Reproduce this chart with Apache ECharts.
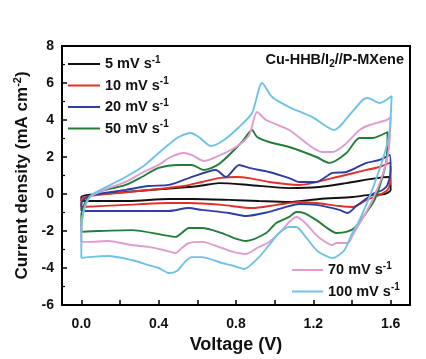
<!DOCTYPE html>
<html>
<head>
<meta charset="utf-8">
<script src="https://cdn.jsdelivr.net/npm/echarts@6/dist/echarts.min.js"></script>
<style>html,body{margin:0;padding:0;background:#fff;}#c{width:426px;height:359px;}</style>
</head>
<body>
<div id="c"></div>
<script>
var scanRates = ['5', '10', '20', '50', '70', '100'];
var colors = ['#111111', '#e0302a', '#2d3fa3', '#237d3a', '#df9ccf', '#6fc2e6'];
var xTicks = [0, 0.2, 0.4, 0.6, 0.8, 1.0, 1.2, 1.4, 1.6];
var xLabels = [0, 0.4, 0.8, 1.2, 1.6];

var cv5 = [[0,-0.38],[0,-0.16],[0.036,-0.05],[0.161,0.05],[0.421,0.27],[0.608,0.43],[0.712,0.59],[0.868,0.49],[1.075,0.32],[1.231,0.38],[1.371,0.59],[1.527,0.86],[1.595,0.92],
  [1.60,0.22],[1.569,0.0],[1.49,-0.05],[1.403,-0.16],[1.231,-0.27],[1.075,-0.43],[0.919,-0.38],[0.764,-0.32],[0.577,-0.27],[0.452,-0.27],[0.244,-0.38],[0,-0.38]];
var cv10 = [[0,-0.70],[0,-0.32],[0.026,-0.16],[0.088,-0.05],[0.244,0.11],[0.40,0.27],[0.53,0.43],[0.623,0.65],[0.712,0.86],[0.80,0.92],[0.868,0.86],[0.971,0.65],[1.127,0.49],[1.299,0.86],[1.475,1.30],[1.543,1.46],[1.595,1.68],
  [1.60,0.76],[1.584,0.22],[1.543,-0.05],[1.475,-0.32],[1.403,-0.70],[1.335,-0.65],[1.216,-0.49],[1.127,-0.43],[1.008,-0.59],[0.883,-0.76],[0.727,-0.59],[0.556,-0.49],[0.452,-0.49],[0.229,-0.59],[0,-0.70]];
var cv20 = [[0,-0.92],[0,-0.54],[0.016,-0.27],[0.062,-0.05],[0.229,0.22],[0.348,0.43],[0.452,0.49],[0.556,0.86],[0.696,1.30],[0.748,0.92],[0.816,1.57],[0.868,1.41],[0.971,1.19],[1.075,0.86],[1.127,0.65],[1.216,0.65],[1.299,1.14],[1.371,1.19],[1.475,1.68],[1.543,1.84],[1.595,2.11],
  [1.60,1.30],[1.584,0.49],[1.558,0.22],[1.517,0.05],[1.465,-0.32],[1.423,-0.65],[1.377,-1.03],[1.335,-0.86],[1.216,-0.59],[1.127,-0.54],[1.039,-0.76],[0.971,-0.97],[0.852,-1.19],[0.764,-1.03],[0.623,-0.86],[0.556,-0.76],[0.452,-0.92],[0.229,-0.92],[0,-0.92]];
var cv50 = [[0,-2.05],[0,-1.14],[0.016,-0.54],[0.036,-0.22],[0.088,0.11],[0.229,0.49],[0.312,0.92],[0.40,1.41],[0.504,1.57],[0.571,1.57],[0.634,1.30],[0.712,1.62],[0.831,2.81],[0.883,3.46],[0.909,3.08],[0.971,2.81],[1.075,2.54],[1.216,2.0],[1.283,1.68],[1.371,2.22],[1.439,3.03],[1.506,3.03],[1.584,3.35],
  [1.579,1.84],[1.553,0.76],[1.517,-0.32],[1.465,-1.14],[1.413,-1.84],[1.371,-2.05],[1.32,-2.11],[1.257,-1.73],[1.216,-1.41],[1.153,-1.03],[1.112,-0.97],[1.075,-1.24],[1.008,-1.57],[0.956,-2.11],[0.852,-2.54],[0.79,-2.38],[0.727,-2.11],[0.623,-1.84],[0.556,-1.84],[0.519,-2.11],[0.488,-2.32],[0.426,-2.22],[0.26,-1.95],[0.088,-2.0],[0,-2.05]];
var cv70 = [[0,-2.59],[0,-1.68],[0.016,-0.76],[0.036,-0.27],[0.062,-0.05],[0.14,0.32],[0.229,0.65],[0.322,1.19],[0.40,1.57],[0.462,2.0],[0.53,2.22],[0.571,2.11],[0.634,1.78],[0.686,1.95],[0.80,2.54],[0.868,3.19],[0.909,4.43],[0.956,4.0],[1.075,3.46],[1.247,2.27],[1.299,2.27],[1.361,2.65],[1.439,3.46],[1.491,3.73],[1.579,4.0],[1.60,4.16],
  [1.59,2.38],[1.558,1.03],[1.506,-0.32],[1.465,-1.14],[1.413,-2.05],[1.377,-2.65],[1.32,-2.65],[1.299,-2.76],[1.247,-2.49],[1.216,-2.22],[1.153,-1.51],[1.112,-1.24],[1.075,-1.51],[1.039,-1.95],[0.971,-2.59],[0.909,-2.92],[0.852,-3.24],[0.79,-3.14],[0.727,-2.92],[0.623,-2.59],[0.556,-2.65],[0.519,-2.92],[0.488,-3.19],[0.426,-3.03],[0.348,-2.86],[0.26,-2.76],[0.14,-2.54],[0.036,-2.59],[0,-2.59]];
var cv100 = [[0,-3.46],[0,-1.95],[0.01,-1.03],[0.026,-0.49],[0.052,-0.05],[0.088,0.16],[0.229,0.92],[0.322,1.51],[0.40,2.22],[0.462,2.76],[0.504,3.08],[0.566,3.30],[0.608,3.08],[0.67,2.59],[0.738,2.92],[0.816,3.62],[0.883,4.38],[0.935,6.0],[0.987,5.24],[1.075,4.70],[1.195,4.16],[1.309,3.46],[1.387,4.27],[1.455,5.08],[1.481,5.19],[1.543,4.92],[1.605,5.30],
  [1.595,3.46],[1.574,2.38],[1.532,1.03],[1.49,-0.16],[1.439,-1.41],[1.397,-2.22],[1.361,-3.03],[1.325,-3.35],[1.299,-3.46],[1.257,-3.30],[1.216,-3.03],[1.153,-2.22],[1.112,-1.78],[1.075,-1.78],[1.023,-2.11],[0.971,-2.76],[0.919,-3.41],[0.842,-4.05],[0.79,-3.89],[0.727,-3.73],[0.623,-3.41],[0.571,-3.41],[0.535,-3.68],[0.494,-4.16],[0.452,-4.27],[0.40,-4.0],[0.348,-3.84],[0.26,-3.57],[0.14,-3.35],[0.036,-3.41],[0,-3.46]];

var curves = [cv5, cv10, cv20, cv50, cv70, cv100];
var FONT = '"Liberation Sans", Arial, sans-serif';

function seriesName(r) { return r + ' mV s-1'; }

var series = curves.map(function (d, i) {
  return {
    name: seriesName(scanRates[i]),
    type: 'line',
    data: d,
    showSymbol: false,
    symbol: 'none',
    smooth: 0.25,
    lineStyle: { width: 1.9, color: colors[i] },
    itemStyle: { color: colors[i] },
    z: 2 + i
  };
});

var legendText = {
  fontFamily: FONT, fontWeight: 'bold', fontSize: 14, color: '#111',
  rich: {
    m: { fontFamily: FONT, fontWeight: 'bold', fontSize: 14.5, color: '#111', lineHeight: 18 },
    s: { fontFamily: FONT, fontWeight: 'bold', fontSize: 10, color: '#111', verticalAlign: 'top', lineHeight: 10 }
  }
};
function legendFmt(name) { return '{m|' + name.replace(' s-1', ' s') + '}{s|-1}'; }

var chart = echarts.init(document.getElementById('c'), null, { renderer: 'canvas' });
chart.setOption({
  animation: false,
  backgroundColor: '#fff',
  title: {
    text: '{a|Cu-HHB/I}{b|2}{a|//P-MXene}',
    right: 22, top: 51, padding: 0,
    textStyle: {
      rich: {
        a: { fontFamily: FONT, fontWeight: 'bold', fontSize: 14.5, color: '#111', lineHeight: 18 },
        b: { fontFamily: FONT, fontWeight: 'bold', fontSize: 10, color: '#111', verticalAlign: 'bottom', lineHeight: 10 }
      }
    }
  },
  legend: [
    {
      data: scanRates.slice(0, 4).map(seriesName),
      orient: 'vertical', left: 68, top: 55, padding: 0,
      icon: 'rect', itemWidth: 32, itemHeight: 2, itemGap: 5,
      formatter: legendFmt, textStyle: legendText
    },
    {
      data: scanRates.slice(4).map(seriesName),
      orient: 'vertical', left: 292, top: 261, padding: 0,
      icon: 'rect', itemWidth: 31, itemHeight: 2, itemGap: 5,
      formatter: legendFmt, textStyle: legendText
    }
  ],
  grid: { left: 62, right: 16, top: 46, bottom: 54, show: true, borderColor: '#000', borderWidth: 2, backgroundColor: 'transparent' },
  xAxis: {
    type: 'value', min: -0.1, max: 1.7,
    name: 'Voltage (V)', nameLocation: 'middle', nameGap: 31,
    nameTextStyle: { fontFamily: FONT, fontWeight: 'bold', fontSize: 18, color: '#111' },
    axisLine: { show: true, onZero: false, lineStyle: { color: '#000', width: 2 } },
    axisTick: { show: true, inside: true, length: 5, lineStyle: { color: '#000', width: 1.5 }, customValues: xTicks },
    axisLabel: { customValues: xLabels, margin: 12, fontFamily: FONT, fontWeight: 'bold', fontSize: 14, color: '#111', formatter: function (v) { return v.toFixed(1); } },
    splitLine: { show: false }
  },
  yAxis: {
    type: 'value', min: -6, max: 8, interval: 2,
    name: '{a|Current density (mA cm}{s|-2}{a|)}', nameLocation: 'middle', nameGap: 30, nameRotate: 90,
    nameTextStyle: {
      rich: {
        a: { fontFamily: FONT, fontWeight: 'bold', fontSize: 17, color: '#111', lineHeight: 20 },
        s: { fontFamily: FONT, fontWeight: 'bold', fontSize: 11, color: '#111', verticalAlign: 'top', lineHeight: 11 }
      }
    },
    axisLine: { show: true, onZero: false, lineStyle: { color: '#000', width: 2 } },
    axisTick: { show: true, inside: true, length: 5, lineStyle: { color: '#000', width: 1.5 } },
    minorTick: { show: true, splitNumber: 2, length: 3, lineStyle: { color: '#000', width: 1.2 } },
    axisLabel: { margin: 8, fontFamily: FONT, fontWeight: 'bold', fontSize: 14, color: '#111' },
    splitLine: { show: false }
  },
  series: series
});
</script>
</body>
</html>
